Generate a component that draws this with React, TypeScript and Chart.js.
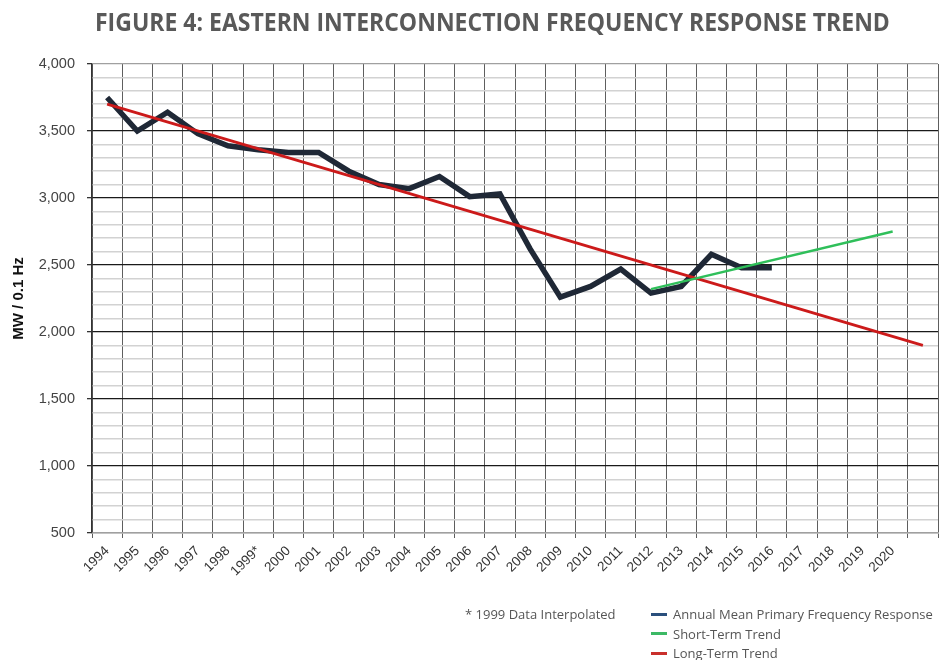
import React, { useEffect, useLayoutEffect, useRef, useState } from 'react';
import { Chart, registerables } from 'chart.js';

Chart.register(...registerables);

const TITLE = 'FIGURE 4: EASTERN INTERCONNECTION FREQUENCY RESPONSE TREND';
const Y_TITLE = 'MW / 0.1 Hz';
const NOTE = '* 1999 Data Interpolated';

const years = [
  '1994', '1995', '1996', '1997', '1998', '1999*', '2000', '2001', '2002', '2003',
  '2004', '2005', '2006', '2007', '2008', '2009', '2010', '2011', '2012', '2013',
  '2014', '2015', '2016', '2017', '2018', '2019', '2020', '',
];

const annualMean = [
  3750, 3500, 3640, 3480, 3390, 3360, 3340, 3340, 3200, 3100,
  3070, 3160, 3010, 3030, 2620, 2260, 2340, 2470, 2290, 2340,
  2580, 2480, 2480, null, null, null, null, null,
];

const shortTerm = [
  null, null, null, null, null, null, null, null, null, null,
  null, null, null, null, null, null, null, null, 2320, null,
  null, null, null, null, null, null, 2750, null,
];

const longTerm = [
  3700, null, null, null, null, null, null, null, null, null,
  null, null, null, null, null, null, null, null, null, null,
  null, null, null, null, null, null, null, 1900,
];

const seriesNames = ['Annual Mean Primary Frequency Response', 'Short-Term Trend', 'Long-Term Trend'];
const legendColors = ['#2a4f7c', '#3cb965', '#c9302c'];

const yMin = 500;
const yMax = 4000;
const yStep = 100;
const yMajor = 500;

const tickFont = { family: 'Liberation Sans, Arial, sans-serif', size: 14.5 };

export default function App() {
  const canvasRef = useRef<HTMLCanvasElement | null>(null);
  const titleRef = useRef<HTMLSpanElement | null>(null);
  const [titleScale, setTitleScale] = useState(1);

  useLayoutEffect(() => {
    if (titleRef.current) {
      const w = titleRef.current.offsetWidth;
      if (w > 0) setTitleScale(795 / w);
    }
  }, []);

  useEffect(() => {
    if (!canvasRef.current) return;
    const chart = new Chart(canvasRef.current, {
      type: 'line',
      data: {
        labels: years,
        datasets: [
          {
            label: seriesNames[2],
            data: longTerm,
            borderColor: '#cc1a1a',
            borderWidth: 2.8,
            pointRadius: 0,
            spanGaps: true,
            tension: 0,
            order: 2,
          },
          {
            label: seriesNames[0],
            data: annualMean,
            borderColor: '#1f2836',
            borderWidth: 5.5,
            pointRadius: 0,
            spanGaps: false,
            tension: 0,
            borderJoinStyle: 'miter',
            order: 3,
          },
          {
            label: seriesNames[1],
            data: shortTerm,
            borderColor: '#2fbf5a',
            borderWidth: 2.4,
            pointRadius: 0,
            spanGaps: true,
            tension: 0,
            order: 1,
          },
        ],
      },
      options: {
        responsive: false,
        animation: false,
        events: [],
        layout: { padding: { top: 64, right: 2, left: 0, bottom: 0 } },
        plugins: {
          legend: { display: false },
          tooltip: { enabled: false },
        },
        scales: {
          x: {
            type: 'category',
            offset: true,
            grid: {
              offset: true,
              color: '#5e5e5e',
              lineWidth: 1,
              tickLength: 5,
            },
            border: { display: true, color: '#a0a0a0', width: 1.5 },
            ticks: {
              autoSkip: false,
              maxRotation: 45,
              minRotation: 45,
              font: { family: 'Liberation Sans, Arial, sans-serif', size: 13.5 },
              color: '#333',
              padding: 5,
            },
            afterFit: (s: any) => {
              s.height = 127;
            },
          },
          y: {
            min: yMin,
            max: yMax,
            ticks: {
              stepSize: yStep,
              autoSkip: false,
              font: tickFont,
              color: '#444',
              padding: 12,
              callback: (v: any) => (Number(v) % yMajor === 0 ? Number(v).toLocaleString('en-US') : ''),
            },
            grid: {
              color: (ctx: any) => {
                const v = ctx.tick ? ctx.tick.value : 0;
                if (v === yMin || v === yMax) return '#a0a0a0';
                return v % yMajor === 0 ? '#1a1a1a' : '#d2d2d2';
              },
              lineWidth: (ctx: any) => {
                const v = ctx.tick ? ctx.tick.value : 0;
                return v % yMajor === 0 ? 1.3 : 1.6;
              },
              tickLength: 5,
              tickColor: (ctx: any) => {
                const v = ctx.tick ? ctx.tick.value : 0;
                return v % yMajor === 0 ? '#333' : 'rgba(0,0,0,0)';
              },
            },
            border: { display: true, color: '#333', width: 1.3 },
            title: {
              display: true,
              text: Y_TITLE,
              font: { family: 'Liberation Sans, Arial, sans-serif', size: 15, weight: 'bold' },
              color: '#111',
              padding: { top: 9.5, bottom: 0 },
            },
            afterFit: (s: any) => {
              s.width = 92;
            },
          },
        },
      },
    });
    return () => chart.destroy();
  }, []);

  const legendText: React.CSSProperties = {
    position: 'absolute',
    fontFamily: 'Open Sans, sans-serif',
    fontSize: 13,
    color: '#555',
    whiteSpace: 'nowrap',
    lineHeight: '18px',
  };

  return (
    <div style={{ position: 'absolute', left: 0, top: 0, width: 940, height: 660, background: '#fff', overflow: 'hidden' }}>
      <canvas ref={canvasRef} width={940} height={660} style={{ position: 'absolute', left: 0, top: 0 }} />
      <div style={{ position: 'absolute', left: 95, top: 4, whiteSpace: 'nowrap' }}>
        <span
          ref={titleRef}
          style={{
            display: 'inline-block',
            fontFamily: 'Open Sans, sans-serif',
            fontWeight: 700,
            fontSize: 25,
            color: '#595959',
            transform: `scaleX(${titleScale})`,
            transformOrigin: 'left center',
          }}
        >
          {TITLE}
        </span>
      </div>
      <div style={{ ...legendText, left: 465, top: 605 }}>{NOTE}</div>
      {seriesNames.map((name, i) => (
        <React.Fragment key={name}>
          <div
            style={{
              position: 'absolute',
              left: 651,
              top: 614 + i * 19.5 - 1.5,
              width: 16,
              height: 3,
              background: legendColors[i],
            }}
          />
          <div style={{ ...legendText, left: 673, top: 605 + i * 19.5 }}>{name}</div>
        </React.Fragment>
      ))}
    </div>
  );
}
